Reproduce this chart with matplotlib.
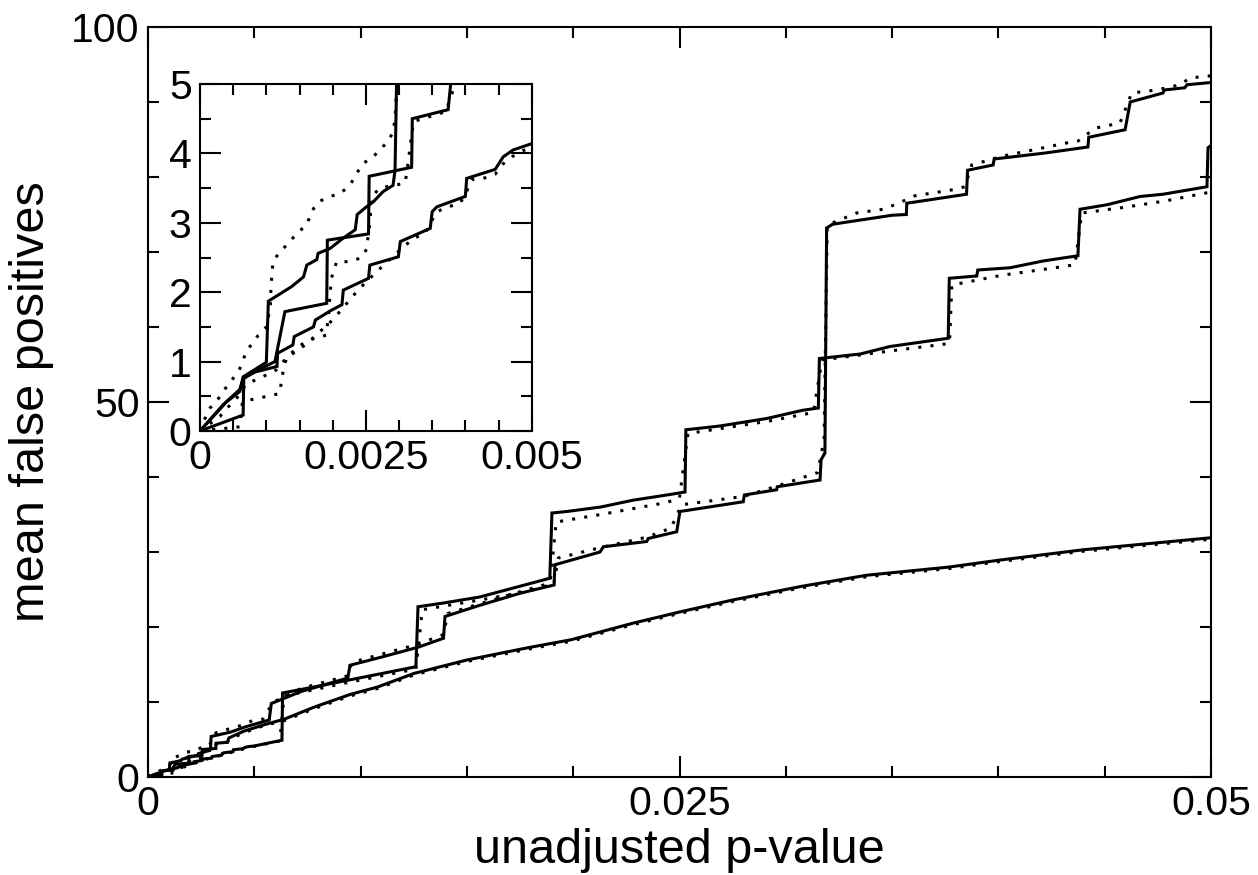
import matplotlib
matplotlib.use("Agg")
import matplotlib.pyplot as plt
from matplotlib.ticker import MultipleLocator, FuncFormatter

plt.rcParams['font.family'] = ['Liberation Sans', 'DejaVu Sans']

# solid curves (x = unadjusted p-value, y = mean false positives)
curve_a = [(0, 0), (0.0004, 0.42), (0.0006, 0.57), (0.00065, 0.78), (0.001, 0.99),
           (0.00103, 1.87), (0.00138, 2.08), (0.00156, 2.22), (0.00161, 2.39),
           (0.00176, 2.47), (0.00178, 2.56), (0.00196, 2.63), (0.00216, 2.78),
           (0.00234, 2.9), (0.00237, 3.12), (0.00251, 3.23), (0.00261, 3.3),
           (0.00269, 3.38), (0.00276, 3.45), (0.00291, 3.54), (0.00294, 3.76),
           (0.00297, 5.4), (0.0039, 6.0), (0.0046, 6.7), (0.0057, 7.6), (0.0058, 9.8),
           (0.0072, 11.4), (0.0094, 13.2), (0.0095, 14.9), (0.011, 16.0), (0.0127, 17.3),
           (0.0139, 18.5), (0.01397, 21.4), (0.0155, 22.8), (0.0175, 24.5), (0.0191, 25.6),
           (0.01914, 28.3), (0.02126, 30.0), (0.02142, 30.7), (0.02346, 31.4),
           (0.02353, 31.8), (0.02487, 32.7), (0.02502, 35.4), (0.028, 36.7),
           (0.02805, 37.6), (0.02957, 38.3), (0.0296, 38.7), (0.03161, 39.6),
           (0.03166, 42.3), (0.03184, 43.2), (0.03192, 73.2), (0.0322, 73.7),
           (0.035, 74.9), (0.03567, 75.0), (0.03569, 76.5), (0.0385, 77.7),
           (0.03855, 80.9), (0.03975, 81.6), (0.0398, 82.4), (0.0422, 83.2),
           (0.04421, 84.0), (0.04425, 85.3), (0.04596, 86.3), (0.0462, 90.0),
           (0.04774, 91.2), (0.0478, 91.6), (0.04877, 91.9), (0.04887, 92.3), (0.05, 92.6)]

curve_b = [(0, 0), (0.00065, 0.23), (0.00066, 0.76), (0.00083, 0.85), (0.00116, 0.93),
           (0.00117, 1.12), (0.0014, 1.24), (0.00142, 1.36), (0.00171, 1.5),
           (0.00174, 1.6), (0.00198, 1.74), (0.00214, 1.82), (0.00216, 2.03),
           (0.00254, 2.2), (0.00256, 2.39), (0.00299, 2.51), (0.00302, 2.73),
           (0.00347, 2.92), (0.0035, 3.16), (0.00357, 3.23), (0.004, 3.38),
           (0.00402, 3.64), (0.00445, 3.77), (0.00457, 3.95), (0.00472, 4.05),
           (0.005, 4.14), (0.0063, 4.9), (0.00633, 11.2), (0.0078, 12.0), (0.0094, 12.9),
           (0.0126, 14.7), (0.0127, 22.7), (0.0139, 23.2), (0.0156, 24.0), (0.0189, 26.5),
           (0.019, 35.2), (0.0197, 35.4), (0.0213, 36.0), (0.0228, 36.9), (0.0244, 37.6),
           (0.02526, 38.0), (0.0253, 46.3), (0.0269, 46.8), (0.0291, 47.8), (0.0308, 48.9),
           (0.03153, 49.2), (0.03158, 55.8), (0.0335, 56.4), (0.0349, 57.4),
           (0.03764, 58.5), (0.03769, 66.5), (0.03898, 66.8), (0.03903, 67.6),
           (0.04055, 67.9), (0.0421, 68.8), (0.04374, 69.5), (0.04384, 75.7),
           (0.04511, 76.3), (0.04666, 77.4), (0.04774, 77.7), (0.04981, 78.7),
           (0.04986, 83.9), (0.05, 84.2)]

curve_c = [(0, 0), (0.00035, 0.38), (0.0006, 0.6), (0.00065, 0.75), (0.00075, 0.82),
           (0.00113, 1.0), (0.00128, 1.72), (0.00191, 1.84), (0.00192, 2.75),
           (0.00254, 2.84), (0.00255, 3.67), (0.00319, 3.8), (0.0032, 4.5),
           (0.00374, 4.63), (0.0038, 5.2), (0.0045, 6.1), (0.0055, 7.0), (0.0064, 7.7),
           (0.0078, 9.3), (0.0095, 11.0), (0.0108, 12.0), (0.0125, 13.8), (0.015, 15.6),
           (0.0178, 17.2), (0.0199, 18.3), (0.0228, 20.5), (0.025, 22.0), (0.0275, 23.6),
           (0.0307, 25.4), (0.0338, 26.9), (0.0377, 28.0), (0.04, 28.9), (0.044, 30.3),
           (0.047, 31.1), (0.05, 31.9)]

# dotted curves
dots_a = [(0, 0), (0.000075, 0.18), (0.00015, 0.33), (0.00028, 0.47), (0.00038, 0.61),
          (0.0005, 0.76), (0.0006, 0.9), (0.00068, 1.1), (0.00078, 1.26), (0.00088, 1.38),
          (0.001, 1.5), (0.00106, 1.79), (0.00107, 2.08), (0.0011, 2.44), (0.0012, 2.58),
          (0.00133, 2.7), (0.00146, 2.85), (0.00161, 2.97), (0.00168, 3.16),
          (0.00178, 3.3), (0.00196, 3.38), (0.00211, 3.42), (0.00226, 3.54),
          (0.00236, 3.71), (0.00246, 3.86), (0.00259, 3.93), (0.00271, 4.05),
          (0.00284, 4.18), (0.00291, 4.31), (0.00294, 4.5), (0.00298, 5.2), (0.0032, 5.9),
          (0.0038, 6.4), (0.0043, 6.8), (0.0049, 7.5), (0.0054, 7.7), (0.0059, 10.0),
          (0.0072, 11.8), (0.0094, 13.5), (0.0096, 15.3), (0.0127, 17.7), (0.0139, 19.0),
          (0.0141, 21.8), (0.0175, 24.7), (0.0191, 26.0), (0.0193, 29.2), (0.0213, 30.6),
          (0.0235, 32.0), (0.0246, 33.2), (0.0251, 36.3), (0.028, 37.4), (0.0296, 38.8),
          (0.0315, 40.6), (0.0318, 45.0), (0.03195, 73.6), (0.03333, 75.2),
          (0.03457, 75.7), (0.03513, 76.3), (0.03608, 77.5), (0.03786, 78.3),
          (0.03843, 78.7), (0.03874, 81.6), (0.04022, 82.8), (0.04196, 83.8),
          (0.04313, 84.5), (0.04375, 84.8), (0.04454, 86.5), (0.04572, 87.2),
          (0.04627, 91.2), (0.04744, 91.6), (0.04854, 92.3), (0.04901, 93.2), (0.05, 93.5)]

dots_b = [(0, 0), (0.0003, 0.21), (0.00043, 0.35), (0.00055, 0.47), (0.0007, 0.68),
          (0.0009, 0.76), (0.00115, 0.88), (0.0013, 1.05), (0.0016, 1.25), (0.002, 1.6),
          (0.0024, 2.05), (0.00281, 2.43), (0.00309, 2.67), (0.00322, 2.78),
          (0.00339, 2.84), (0.00347, 2.99), (0.00357, 3.16), (0.00374, 3.23),
          (0.00392, 3.28), (0.00402, 3.45), (0.00409, 3.62), (0.00427, 3.64),
          (0.00445, 3.7), (0.00457, 3.85), (0.0047, 3.95), (0.00487, 4.04), (0.005, 4.08),
          (0.0062, 4.8), (0.0064, 10.8), (0.0094, 12.6), (0.0126, 14.4), (0.0129, 22.3),
          (0.0156, 23.6), (0.0178, 24.7), (0.0189, 25.6), (0.0192, 34.0), (0.0213, 35.0),
          (0.0244, 36.6), (0.025, 37.2), (0.0254, 45.8), (0.0291, 47.4), (0.0313, 48.6),
          (0.0317, 55.6), (0.0349, 56.8), (0.0377, 57.8), (0.03781, 65.6),
          (0.04016, 66.9), (0.04243, 67.8), (0.0436, 68.3), (0.04392, 75.2),
          (0.04603, 76.0), (0.04783, 76.8), (0.05, 78.0)]

dots_c = [(0, 0), (0.0003, 0.03), (0.0006, 0.06), (0.00064, 0.42), (0.00085, 0.47),
          (0.00102, 0.5), (0.0012, 0.54), (0.00123, 0.73), (0.00126, 0.9),
          (0.00131, 1.07), (0.0016, 1.3), (0.0019, 1.38), (0.00193, 1.6), (0.00198, 2.2),
          (0.00206, 2.44), (0.00226, 2.44), (0.00244, 2.5), (0.00251, 2.62),
          (0.00256, 3.0), (0.00259, 3.38), (0.00271, 3.5), (0.00309, 3.57),
          (0.00312, 3.74), (0.00317, 4.12), (0.00322, 4.46), (0.0037, 4.6),
          (0.00378, 4.8), (0.00384, 5.0), (0.0045, 5.9), (0.0055, 6.9), (0.0064, 7.5),
          (0.0078, 9.1), (0.0095, 10.8), (0.0108, 11.8), (0.0125, 13.6), (0.015, 15.4),
          (0.0178, 17.0), (0.0199, 18.1), (0.0228, 20.3), (0.025, 21.8), (0.0275, 23.4),
          (0.0307, 25.2), (0.0338, 26.7), (0.0377, 27.8), (0.04, 28.7), (0.044, 30.1),
          (0.047, 30.9), (0.05, 31.7)]

solid_curves = [curve_a, curve_b, curve_c]
dotted_curves = [dots_a, dots_b, dots_c]

LW = 2.2
TICK_FS = 29.5
LABEL_FS = 35


def draw_curves(ax):
    for pts in dotted_curves:
        xs, ys = zip(*pts)
        ax.plot(xs, ys, color='black', lw=LW, dashes=(1, 3), dash_capstyle='butt')
    for pts in solid_curves:
        xs, ys = zip(*pts)
        ax.plot(xs, ys, color='black', lw=LW, solid_joinstyle='miter')


def style_axes(ax, xmaj, xmin, ymaj, ymin):
    ax.xaxis.set_major_locator(MultipleLocator(xmaj))
    ax.xaxis.set_minor_locator(MultipleLocator(xmin))
    ax.yaxis.set_major_locator(MultipleLocator(ymaj))
    ax.yaxis.set_minor_locator(MultipleLocator(ymin))
    fmt = FuncFormatter(lambda v, p: '%g' % round(v, 6))
    ax.xaxis.set_major_formatter(fmt)
    ax.yaxis.set_major_formatter(fmt)
    ax.tick_params(which='both', direction='in', top=True, right=True,
                   width=1.5, labelsize=TICK_FS, pad=6)
    ax.tick_params(which='major', length=15)
    ax.tick_params(which='minor', length=7.7)
    for s in ax.spines.values():
        s.set_linewidth(1.5)


fig = plt.figure(figsize=(12.58, 8.75), dpi=100)

ax = fig.add_axes([148 / 1258, 1 - 777 / 875, (1211 - 148) / 1258, (777 - 27) / 875])
draw_curves(ax)
ax.set_xlim(0, 0.05)
ax.set_ylim(0, 100)
style_axes(ax, 0.025, 0.005, 50, 10)
ax.set_xlabel('unadjusted p-value', fontsize=LABEL_FS, labelpad=3.5)
ax.set_ylabel('mean false positives', fontsize=LABEL_FS, labelpad=12)

ins = fig.add_axes([200 / 1258, 1 - 431 / 875, (531.7 - 200) / 1258, (431 - 84) / 875])
ins.set_facecolor('white')
draw_curves(ins)
ins.set_xlim(0, 0.005)
ins.set_ylim(0, 5)
style_axes(ins, 0.0025, 0.0005, 1, 0.5)

fig.savefig('out.png', dpi=100)
